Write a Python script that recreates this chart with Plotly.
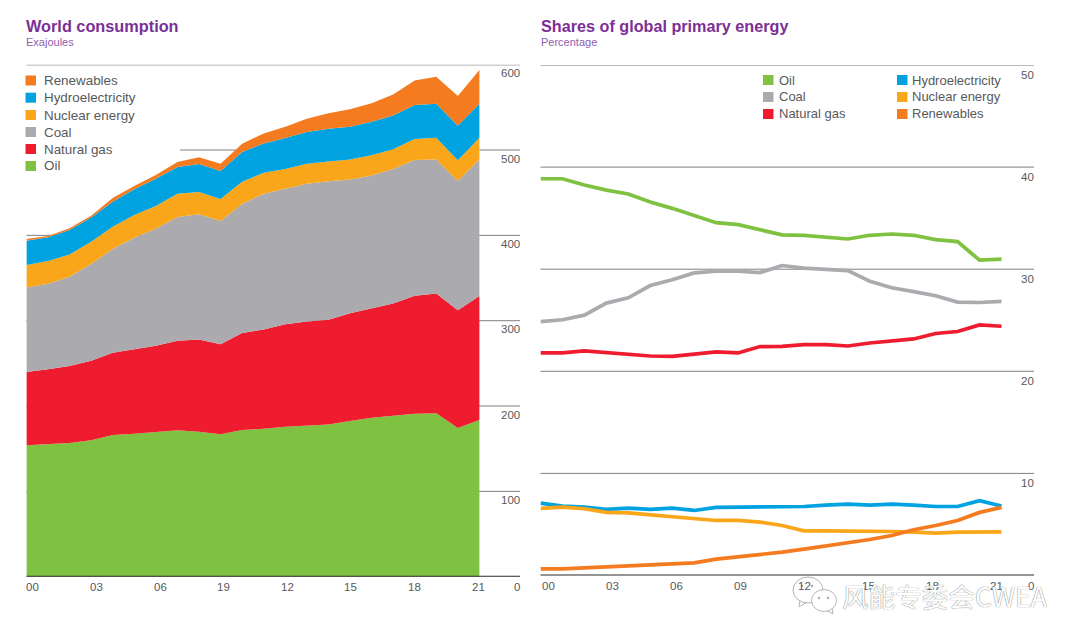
import plotly.graph_objects as go

years = list(range(22))
left_names = ["Oil", "Natural gas", "Coal", "Nuclear energy", "Hydroelectricity", "Renewables"]
oil = [153.9,155,156.6,160,166,167.6,169.5,171.5,170,166.8,172,173.4,175.8,177.3,178.5,182.4,186.3,188.7,191,191.4,174.2,183.6]
gas = [86.1,88,90.3,93,96.5,98.8,101.2,105.1,108,105.5,113.5,116.4,119.9,121.9,122.5,126.2,128.2,131.6,138.3,140.6,137.9,145.3]
coal = [99,100.4,104.7,113.4,121.5,130.9,137.1,144.9,146.6,144.5,151.2,159,159,161.3,162.3,157,155.8,157.4,159,157,151.6,160.1]
nuclear = [26.2,26.5,26.1,26.2,26.2,26.5,26.6,27.3,26.2,25.8,26.2,24.6,23,23.5,23.4,23.4,23.7,23.3,24.7,25.5,24.3,25.5]
hydro = [28.6,27.8,28.6,28.4,29.3,30.1,32,31.2,32.8,32.8,34.8,34.4,36.3,37,38.3,38.3,39.2,39.6,39.7,39.8,40.5,39.8]
renew = [1.9,1.5,1.9,2,4.3,3.9,4.3,6,7.8,8.6,9.7,11.7,13.3,15.7,18,20.4,21.5,24.6,28.9,31.6,34.8,39.5]

oil_s = [38.86,38.86,38.24,37.75,37.36,36.58,35.96,35.24,34.56,34.36,33.84,33.36,33.32,33.13,32.96,33.32,33.45,33.32,32.9,32.7,30.88,30.98]
coal_s = [24.87,25.05,25.5,26.68,27.2,28.4,28.96,29.64,29.8,29.8,29.67,30.36,30.1,30,29.87,28.83,28.18,27.8,27.4,26.78,26.74,26.84]
gas_s = [21.8,21.8,22.0,21.83,21.63,21.5,21.47,21.67,21.9,21.8,22.42,22.45,22.62,22.62,22.48,22.77,22.97,23.17,23.7,23.9,24.54,24.41]
hydro_s = [7.09,6.8,6.7,6.47,6.6,6.47,6.6,6.37,6.67,6.67,6.67,6.67,6.76,6.9,7.0,6.9,7.0,6.9,6.76,6.76,7.32,6.8]
nuclear_s = [6.57,6.7,6.54,6.18,6.14,5.95,5.75,5.49,5.39,5.39,5.23,4.9,4.38,4.38,4.38,4.38,4.31,4.25,4.15,4.25,4.28,4.28]
renew_s = [0.65,0.65,0.75,0.85,0.95,1.05,1.11,1.24,1.6,1.8,2.09,2.29,2.58,2.88,3.14,3.53,3.92,4.48,4.9,5.39,6.18,6.67]

left_ticks = [100, 200, 300, 400, 500, 600]
right_ticks = [10, 20, 30, 40, 50]
left_xlabels = ["00", "03", "06", "19", "12", "15", "18", "21"]
right_xlabels = ["00", "03", "06", "09", "12", "15", "18", "21"]

W, H = 1080, 643
GREEN, RED, GREY, AMBER, BLUE, ORANGE = "#7fc241", "#ee1c2e", "#abaaae", "#faa61a", "#00a3e0", "#f47b20"
TXT = "#58595b"
FONT = "Liberation Sans"
px = lambda x: x / W
py = lambda y: 1 - y / H
L0, L1, LEND = 26.4, 479.4, 520
R0, R1, REND = 540.5, 1001.5, 1034

fig = go.Figure()
for name, vals, col in zip(left_names, [oil, gas, coal, nuclear, hydro, renew],
                           [GREEN, RED, GREY, AMBER, BLUE, ORANGE]):
    fig.add_trace(go.Scatter(x=years, y=vals, name=name, mode="lines", stackgroup="a",
                             line=dict(width=0, color=col), fillcolor=col,
                             xaxis="x", yaxis="y", showlegend=False))
for name, vals, col in [("Oil", oil_s, GREEN), ("Coal", coal_s, GREY), ("Natural gas", gas_s, RED),
                        ("Hydroelectricity", hydro_s, BLUE), ("Nuclear energy", nuclear_s, AMBER),
                        ("Renewables", renew_s, ORANGE)]:
    fig.add_trace(go.Scatter(x=years, y=vals, name=name, mode="lines",
                             line=dict(width=3.7, color=col), xaxis="x2", yaxis="y2", showlegend=False))

shapes, ann = [], []


def text(x, y, s, size=13.4, color=TXT, anchor="left", bold=False, yshift=0, font=FONT, yref="paper", shadow=None):
    f = dict(family=font, size=size, color=color)
    if shadow:
        f["shadow"] = shadow
    ann.append(dict(x=px(x), y=(py(y) if yref == "paper" else y), xref="paper", yref=yref, text=f"<b>{s}</b>" if bold else s,
                    showarrow=False, xanchor=anchor, yanchor="middle", yshift=yshift, borderpad=0, borderwidth=0, font=f))


# gridlines
for v in left_ticks:
    x0 = 180 if v == 500 else L0
    top = v == 600
    shapes.append(dict(type="line", xref="paper", yref="y", x0=px(x0), x1=px(LEND), y0=v, y1=v, layer="below",
                       line=dict(color="#a3a3a3" if top else "#808080", width=1.5 if top else 1)))
    text(LEND, v, str(v), size=11.5, anchor="right", yref="y", yshift=-8.5)
for v in right_ticks:
    top = v == 50
    shapes.append(dict(type="line", xref="paper", yref="y2", x0=px(R0), x1=px(REND), y0=v, y1=v, layer="below",
                       line=dict(color="#a3a3a3" if top else "#808080", width=1.5 if top else 1)))
    text(REND, v, str(v), size=11.5, anchor="right", yref="y2", yshift=-10)
# baselines
shapes.append(dict(type="line", xref="paper", yref="y", x0=px(L0), x1=px(LEND), y0=0, y1=0, layer="above",
                   line=dict(color="#2a2a2a", width=2)))
shapes.append(dict(type="line", xref="paper", yref="y2", x0=px(R0), x1=px(REND), y0=0, y1=0, layer="above",
                   line=dict(color="#2a2a2a", width=2)))

# x labels
for i, s in enumerate(left_xlabels):
    text(L0 + i * 63.6, 586.5, s, size=11.5)
text(LEND, 586.5, "0", size=11.5, anchor="right")
for i, s in enumerate(right_xlabels):
    text(541.8 + i * 64, 586, s, size=11.5)
text(REND, 586, "0", size=11.5, anchor="right")

# titles
text(26, 25.5, "World consumption", size=16.3, color="#7b2f96", bold=True)
text(26, 42.5, "Exajoules", size=11, color="#9060ad")
text(540.5, 25.5, "Shares of global primary energy", size=16.2, color="#7b2f96", bold=True)
text(540.5, 42.5, "Percentage", size=11, color="#9060ad")


def legend_item(x, y, label, col, tx, size):
    shapes.append(dict(type="rect", xref="paper", yref="paper", x0=px(x), x1=px(x + 10.5), y0=py(y - 5), y1=py(y + 5),
                       fillcolor=col, line=dict(width=0), layer="above"))
    text(tx, y, label, size=size)


for y, lab, col in [(80.5, "Renewables", ORANGE), (97.7, "Hydroelectricity", BLUE), (115, "Nuclear energy", AMBER),
                    (132, "Coal", GREY), (149, "Natural gas", RED), (166, "Oil", GREEN)]:
    legend_item(25.5, y, lab, col, 43.5, 13.4)
for y, lab, col in [(80, "Oil", GREEN), (97, "Coal", GREY), (114, "Natural gas", RED)]:
    legend_item(763, y, lab, col, 778.5, 13)
for y, lab, col in [(80, "Hydroelectricity", BLUE), (97, "Nuclear energy", AMBER), (114, "Renewables", ORANGE)]:
    legend_item(897, y, lab, col, 912, 13)

# watermark
ICON = "#b5b5b5"
shapes.append(dict(type="path", xref="paper", yref="paper", layer="above", fillcolor="rgba(255,255,255,0.9)",
                   line=dict(color=ICON, width=1),
                   path=f"M {px(800)} {py(600)} L {px(799)} {py(607)} L {px(807)} {py(602)} Z"))
shapes.append(dict(type="path", xref="paper", yref="paper", layer="above", fillcolor="rgba(255,255,255,0.9)",
                   line=dict(color=ICON, width=1),
                   path=f"M {px(826)} {py(610)} L {px(833)} {py(614)} L {px(832)} {py(607)} Z"))
for cx, cy, rx, ry in [(808, 590, 15, 13), (824, 600.5, 12.5, 11)]:
    shapes.append(dict(type="circle", xref="paper", yref="paper", x0=px(cx - rx), x1=px(cx + rx),
                       y0=py(cy - ry), y1=py(cy + ry), fillcolor="rgba(255,255,255,0.9)",
                       line=dict(color=ICON, width=1), layer="above"))
for cx, cy in [(802, 586), (812, 586), (819, 598), (828, 598)]:
    shapes.append(dict(type="circle", xref="paper", yref="paper", x0=px(cx - 1.2), x1=px(cx + 1.2),
                       y0=py(cy - 1.2), y1=py(cy + 1.2), fillcolor="#aaaaaa", line=dict(width=0), layer="above"))
text(842, 595, "风能专委会CWEA", size=26.6, color="#ffffff", font="Noto Sans CJK SC", shadow="0 0 1px #444444")

fig.update_layout(
    width=W, height=H, margin=dict(l=0, r=0, t=0, b=0), paper_bgcolor="white", plot_bgcolor="rgba(0,0,0,0)",
    showlegend=False, shapes=shapes, annotations=ann,
    xaxis=dict(domain=[px(L0), px(LEND)], range=[0, 21 * (LEND - L0) / (L1 - L0)], visible=False, fixedrange=True),
    yaxis=dict(domain=[py(576.7), py(64.7)], range=[0, 600], visible=False, fixedrange=True),
    xaxis2=dict(domain=[px(R0), px(REND)], range=[0, 21 * (REND - R0) / (R1 - R0)], visible=False, anchor="y2", fixedrange=True),
    yaxis2=dict(domain=[py(575.5), py(65)], range=[0, 50], visible=False, anchor="x2", fixedrange=True),
)
fig.write_html("out.html", post_script="document.body.style.margin='0';", config=dict(displayModeBar=False))
